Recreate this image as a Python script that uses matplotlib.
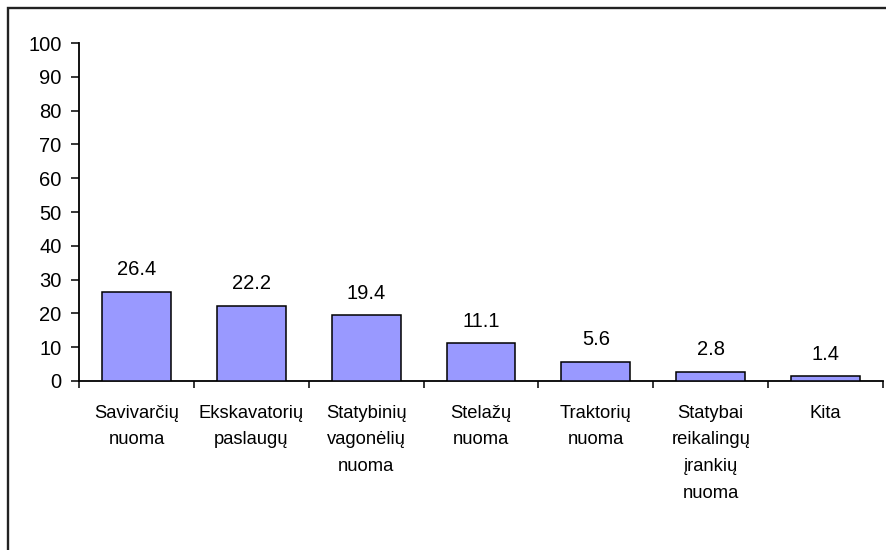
import numpy as np
import matplotlib.pyplot as plt
from matplotlib.patches import Rectangle

categories = ['Savivarčių\nnuoma', 'Ekskavatorių\npaslaugų', 'Statybinių\nvagonėlių\nnuoma',
              'Stelažų\nnuoma', 'Traktorių\nnuoma', 'Statybai\nreikalingų\nįrankių\nnuoma', 'Kita']
values = [26.4, 22.2, 19.4, 11.1, 5.6, 2.8, 1.4]
y_ticks = [0, 10, 20, 30, 40, 50, 60, 70, 80, 90, 100]

plt.rcParams['font.family'] = ['Liberation Sans', 'DejaVu Sans']

W, H = 886, 550
fig = plt.figure(figsize=(W / 100, H / 100), dpi=100)
ax = fig.add_axes([79 / W, (H - 381) / H, (883 - 79) / W, (381 - 43) / H])

# frame around the chart area (runs off the right and bottom edges)
fig.patches.append(Rectangle((8 / W, -0.1), 1.2, (H - 8) / H + 0.1, transform=fig.transFigure,
                             fill=False, edgecolor='#222222', linewidth=1.7))

x = np.arange(len(values))
bars = ax.bar(x, values, width=0.6, color='#9999FF', edgecolor='black', linewidth=1.1, zorder=3)

for xi, v in zip(x, values):
    ax.annotate(f'{v:.1f}', (xi, v), xytext=(0, 12), textcoords='offset points',
                ha='center', va='baseline', fontsize=14.5)

ax.set_xlim(-0.5, len(values) - 0.5)
ax.set_ylim(0, 100)
ax.set_yticks(y_ticks)
ax.tick_params(axis='y', direction='out', length=6, width=1.1, pad=6.5, labelsize=14.5)

# category boundaries get the tick marks, labels sit at the bar centres
ax.set_xticks(np.arange(len(values) + 1) - 0.5)
ax.set_xticklabels([])
ax.tick_params(axis='x', which='major', direction='out', length=5, width=1.1)
ax.set_xticks(x, minor=True)
ax.set_xticklabels(categories, minor=True, fontsize=13.2, linespacing=1.75, va='top')
ax.tick_params(axis='x', which='minor', length=0, pad=17)

for side in ['top', 'right']:
    ax.spines[side].set_visible(False)
for side in ['left', 'bottom']:
    ax.spines[side].set_linewidth(1.3)

fig.savefig('out.png', dpi=100)
